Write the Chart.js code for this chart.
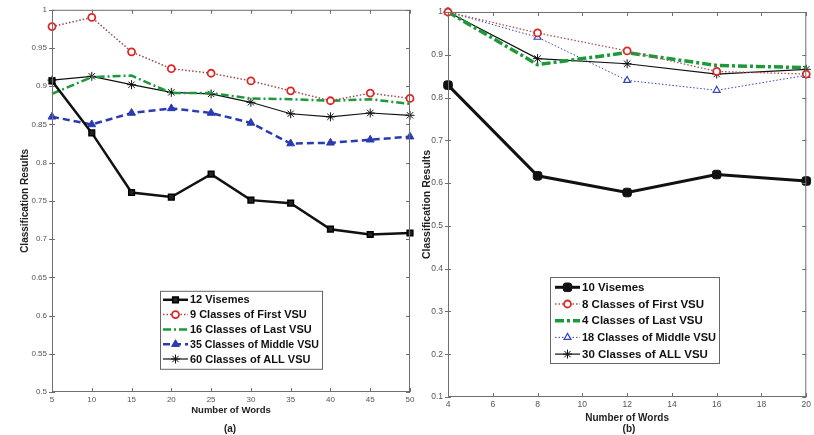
<!DOCTYPE html>
<html lang="en">
<head>
<meta charset="UTF-8">
<title>Classification Results vs Number of Words</title>
<script src="https://cdn.jsdelivr.net/npm/chart.js"></script>
<style>
  body { margin: 0; background: #fff; font-family: "Liberation Sans", Arial, sans-serif; }
  .panel { position: absolute; top: 0; }
  #leftPanel { left: 0; width: 418px; height: 435px; }
  #rightPanel { left: 404px; width: 410px; height: 435px; }
  .cap { position: absolute; font: bold 10px "Liberation Sans", Arial, sans-serif; color: #222; transform: translate(-50%, -50%); }
</style>
</head>
<body>
<div class="panel" id="leftPanel"><canvas id="leftChart" width="418" height="435"></canvas></div>
<div class="panel" id="rightPanel"><canvas id="rightChart" width="410" height="435"></canvas></div>
<div class="cap" style="left:230px; top:428px;">(a)</div>
<div class="cap" style="left:629px; top:428px;">(b)</div>

<script>
// ---- data ----
// (a)
const wordsA = [5, 10, 15, 20, 25, 30, 35, 40, 45, 50];
const visemes12 = [0.907, 0.839, 0.761, 0.755, 0.785, 0.751, 0.747, 0.713, 0.706, 0.708];
const firstVsu9 = [0.978, 0.990, 0.945, 0.923, 0.917, 0.907, 0.894, 0.881, 0.891, 0.884];
const lastVsu16 = [0.890, 0.912, 0.914, 0.891, 0.891, 0.884, 0.883, 0.881, 0.883, 0.877];
const middleVsu35 = [0.860, 0.850, 0.865, 0.871, 0.865, 0.852, 0.825, 0.826, 0.830, 0.834];
const allVsu60 = [0.908, 0.913, 0.902, 0.892, 0.890, 0.879, 0.864, 0.860, 0.865, 0.862];
const xTicksA = [5, 10, 15, 20, 25, 30, 35, 40, 45, 50];
const yTicksA = [0.5, 0.55, 0.6, 0.65, 0.7, 0.75, 0.8, 0.85, 0.9, 0.95, 1];

// (b)
const wordsB = [4, 8, 12, 16, 20];
const visemes10 = [0.829, 0.617, 0.578, 0.620, 0.605];
const firstVsu8 = [1.0, 0.951, 0.909, 0.861, 0.855];
const lastVsu4 = [1.0, 0.877, 0.905, 0.875, 0.870];
const middleVsu18 = [1.0, 0.941, 0.840, 0.817, 0.852];
const allVsu30 = [1.0, 0.891, 0.879, 0.855, 0.866];
const xTicksB = [4, 6, 8, 10, 12, 14, 16, 18, 20];
const yTicksB = [0.1, 0.2, 0.3, 0.4, 0.5, 0.6, 0.7, 0.8, 0.9, 1];

function pts(xs, ys) {
  return xs.map((x, i) => ({ x: x, y: ys[i] }));
}

// frame + inward tick marks, like the matlab box
const boxPlugin = {
  id: 'box',
  afterDatasetsDraw(chart) {
    const { ctx, chartArea: a, scales } = chart;
    ctx.save();
    ctx.strokeStyle = '#6f6f6f';
    ctx.lineWidth = 1;
    ctx.strokeRect(a.left + 0.5, a.top + 0.5, a.right - a.left - 1, a.bottom - a.top - 1);
    ctx.beginPath();
    scales.x.ticks.forEach(t => {
      const px = Math.round(scales.x.getPixelForValue(t.value)) + 0.5;
      ctx.moveTo(px, a.bottom); ctx.lineTo(px, a.bottom - 4);
      ctx.moveTo(px, a.top); ctx.lineTo(px, a.top + 4);
    });
    scales.y.ticks.forEach(t => {
      const py = Math.round(scales.y.getPixelForValue(t.value)) + 0.5;
      ctx.moveTo(a.left - 3, py); ctx.lineTo(a.left + 3, py);
      ctx.moveTo(a.right, py); ctx.lineTo(a.right - 4, py);
    });
    ctx.stroke();
    ctx.restore();
  }
};

// legend box drawn inside the plot
const boxLegend = {
  id: 'boxLegend',
  afterDraw(chart, args, opts) {
    const { ctx, chartArea: a } = chart;
    const bx = a.left + opts.x, by = a.top + opts.y;
    ctx.save();
    ctx.fillStyle = '#fff';
    ctx.fillRect(bx, by, opts.w, opts.h);
    ctx.strokeStyle = '#666';
    ctx.lineWidth = 1;
    ctx.strokeRect(bx + 0.5, by + 0.5, opts.w, opts.h);
    chart.data.datasets.forEach((ds, i) => {
      const y = by + opts.first + i * opts.step;
      const x1 = bx + opts.lineFrom, x2 = bx + opts.lineTo;
      ctx.save();
      ctx.strokeStyle = ds.borderColor;
      ctx.lineWidth = ds.borderWidth;
      ctx.setLineDash(ds.borderDash || []);
      ctx.beginPath();
      ctx.moveTo(x1, y); ctx.lineTo(x2, y);
      ctx.stroke();
      ctx.restore();
      if (ds.pointRadius > 0) {
        ctx.save();
        ctx.fillStyle = ds.pointBackgroundColor;
        ctx.strokeStyle = ds.pointBorderColor;
        ctx.lineWidth = ds.pointBorderWidth;
        Chart.helpers.drawPoint(ctx, {
          pointStyle: ds.pointStyle, radius: ds.pointRadius, rotation: 0, borderWidth: ds.pointBorderWidth
        }, (x1 + x2) / 2, y);
        ctx.restore();
      }
      ctx.fillStyle = '#111';
      ctx.font = 'bold ' + opts.fontSize + 'px "Liberation Sans", Arial, sans-serif';
      ctx.textBaseline = 'middle';
      ctx.textAlign = 'left';
      ctx.fillText(ds.label, bx + opts.textX, y + 0.5, opts.w - opts.textX - 3);
    });
    ctx.restore();
  }
};

function axes(xTicks, yTicks, xmin, xmax, ymin, ymax, fit, titles) {
  const tickFont = { family: '"Liberation Sans", Arial, sans-serif', size: fit.tickSize };
  return {
    x: {
      type: 'linear', min: xmin, max: xmax,
      afterBuildTicks: s => { s.ticks = xTicks.map(v => ({ value: v })); },
      afterFit: s => { s.height = fit.xh; },
      grid: { display: false, drawTicks: false },
      border: { display: false },
      ticks: { autoSkip: false, maxRotation: 0, color: '#555', font: tickFont, padding: 3,
               callback: v => String(v) },
      title: { display: true, text: 'Number of Words', color: '#222',
               font: { family: '"Liberation Sans", Arial, sans-serif', size: titles.xSize, weight: 'bold' },
               padding: { top: 0, bottom: titles.xPad } }
    },
    y: {
      min: ymin, max: ymax,
      afterBuildTicks: s => { s.ticks = yTicks.map(v => ({ value: v })); },
      afterFit: s => { s.width = fit.yw; },
      grid: { display: false, drawTicks: false },
      border: { display: false },
      ticks: { autoSkip: false, color: '#555', font: tickFont, padding: 5,
               callback: v => String(+v.toFixed(2)) },
      title: { display: true, text: 'Classification Results', color: '#222',
               font: { family: '"Liberation Sans", Arial, sans-serif', size: titles.ySize, weight: 'bold' },
               padding: { top: titles.yPad, bottom: 0 } }
    }
  };
}

const base = { tension: 0, clip: false, pointBorderWidth: 1 };

new Chart(document.getElementById('leftChart'), {
  type: 'line',
  data: {
    datasets: [
      { ...base, label: '12 Visemes', data: pts(wordsA, visemes12),
        borderColor: '#111', borderWidth: 2.5, pointStyle: 'rect', pointRadius: 4,
        pointBackgroundColor: '#222', pointBorderColor: '#000', pointBorderWidth: 1.5 },
      { ...base, label: '9 Classes of First VSU', data: pts(wordsA, firstVsu9),
        borderColor: '#9a4a4a', borderWidth: 1.5, borderDash: [1.5, 2], pointStyle: 'circle', pointRadius: 3.5,
        pointBackgroundColor: '#fff', pointBorderColor: '#e02525', pointBorderWidth: 1.8 },
      { ...base, label: '16 Classes of Last VSU', data: pts(wordsA, lastVsu16),
        borderColor: '#1c9a3a', borderWidth: 2.5, borderDash: [8, 3, 2, 3], pointRadius: 0,
        pointBackgroundColor: '#1c9a3a', pointBorderColor: '#1c9a3a' },
      { ...base, label: '35 Classes of Middle VSU', data: pts(wordsA, middleVsu35),
        borderColor: '#2a3ab0', borderWidth: 2.5, borderDash: [7, 4], pointStyle: 'triangle', pointRadius: 4.5,
        pointBackgroundColor: '#2a3ab0', pointBorderColor: '#2a3ab0' },
      { ...base, label: '60 Classes of ALL VSU', data: pts(wordsA, allVsu60),
        borderColor: '#111', borderWidth: 1.2, pointStyle: 'star', pointRadius: 4.5,
        pointBackgroundColor: '#111', pointBorderColor: '#111' }
    ]
  },
  options: {
    responsive: false,
    animation: false,
    layout: { padding: { left: 0, right: 8, top: 7, bottom: 0 } },
    plugins: {
      legend: { display: false },
      tooltip: { enabled: false },
      boxLegend: { x: 108, y: 281, w: 162, h: 78, first: 9, step: 14.8,
                   lineFrom: 3, lineTo: 28, textX: 30, fontSize: 11 }
    },
    scales: axes(xTicksA, yTicksA, 5, 50, 0.5, 1,
                 { xh: 43, yw: 52, tickSize: 8 },
                 { xSize: 9.5, xPad: 19, ySize: 10, yPad: 19 })
  },
  plugins: [boxPlugin, boxLegend]
});

new Chart(document.getElementById('rightChart'), {
  type: 'line',
  data: {
    datasets: [
      { ...base, label: '10 Visemes', data: pts(wordsB, visemes10),
        borderColor: '#111', borderWidth: 3, pointStyle: 'rectRounded', pointRadius: 5,
        pointBackgroundColor: '#111', pointBorderColor: '#111' },
      { ...base, label: '8 Classes of First VSU', data: pts(wordsB, firstVsu8),
        borderColor: '#b05050', borderWidth: 1.3, borderDash: [1.5, 2], pointStyle: 'circle', pointRadius: 3.5,
        pointBackgroundColor: '#fff', pointBorderColor: '#e02525', pointBorderWidth: 1.8 },
      { ...base, label: '4 Classes of Last VSU', data: pts(wordsB, lastVsu4),
        borderColor: '#1c9a3a', borderWidth: 3.5, borderDash: [9, 3, 3, 3], pointRadius: 0,
        pointBackgroundColor: '#1c9a3a', pointBorderColor: '#1c9a3a' },
      { ...base, label: '18 Classes of Middle VSU', data: pts(wordsB, middleVsu18),
        borderColor: '#3344bb', borderWidth: 1, borderDash: [1.5, 2], pointStyle: 'triangle', pointRadius: 4,
        pointBackgroundColor: '#fff', pointBorderColor: '#3344bb', pointBorderWidth: 1.2 },
      { ...base, label: '30 Classes of ALL VSU', data: pts(wordsB, allVsu30),
        borderColor: '#111', borderWidth: 1.2, pointStyle: 'star', pointRadius: 4.5,
        pointBackgroundColor: '#111', pointBorderColor: '#111' }
    ]
  },
  options: {
    responsive: false,
    animation: false,
    layout: { padding: { left: 0, right: 4, top: 12, bottom: 0 } },
    plugins: {
      legend: { display: false },
      tooltip: { enabled: false },
      boxLegend: { x: 102, y: 265, w: 169, h: 86, first: 10.3, step: 16.7,
                   lineFrom: 5, lineTo: 30, textX: 32, fontSize: 11.5 }
    },
    scales: axes(xTicksB, yTicksB, 4, 20, 0.1, 1,
                 { xh: 38, yw: 44, tickSize: 8.5 },
                 { xSize: 10, xPad: 11, ySize: 10.5, yPad: 17 })
  },
  plugins: [boxPlugin, boxLegend]
});
</script>
</body>
</html>
